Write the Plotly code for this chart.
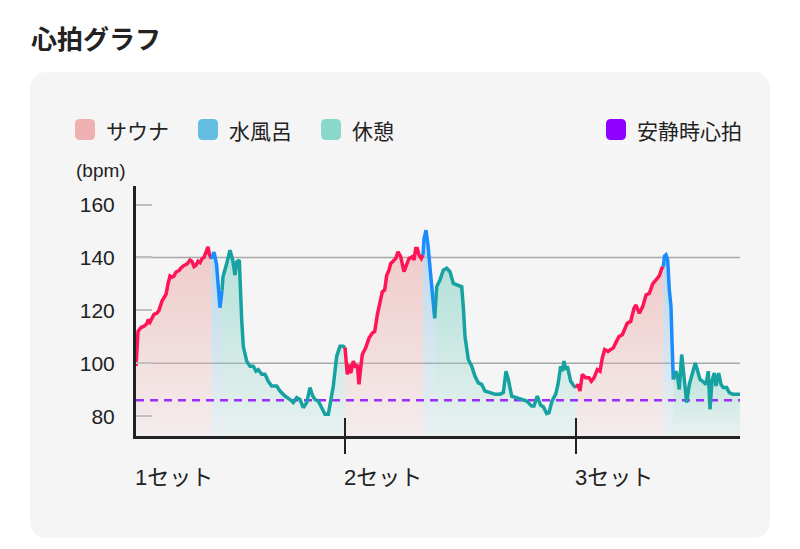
import plotly.graph_objects as go

# ---------------- data (minutes, bpm) ----------------
SET_LABELS = ["1セット", "2セット", "3セット"]
SET_STARTS = [0.0, 20.9, 44.0]
T_END = 60.4
RESTING_HR = 86
Y_TICKS = [80, 100, 120, 140, 160]
GRID_LINES = [100, 140]
Y_MIN, Y_MAX = 72.5, 167.0

sauna1_t = [0.0, 0.1, 0.2, 0.5, 0.8, 1.1, 1.2, 1.4, 1.6, 1.8, 2.1, 2.3, 2.6, 2.8, 3.0, 3.2, 3.4, 3.6, 3.8,
            4.0, 4.3, 4.5, 4.8, 5.1, 5.4, 5.6, 5.8, 6.0, 6.2, 6.4, 6.6, 6.8, 7.0, 7.2, 7.35, 7.55]
sauna1_bpm = [99, 106, 112, 113.5, 114, 115, 116.5, 115.5, 117, 118.5, 119, 120, 123.5, 125, 126, 130, 133, 132.5, 133,
              134.5, 135, 136, 137, 137.5, 139, 138.5, 136.5, 137, 138.5, 138, 139.5, 140, 142, 144, 141, 139.5]

water1_t = [7.55, 7.8, 8.05, 8.3, 8.4, 8.6]
water1_bpm = [139.5, 142, 137.5, 126, 121, 127.5]

rest1_t = [8.6, 8.7, 9.07, 9.4, 9.67, 9.9, 10.07, 10.33, 10.57, 10.73, 11.07, 11.4, 11.73, 12.0, 12.23, 12.57,
           12.9, 13.23, 13.57, 14.07, 14.4, 14.9, 15.4, 15.73, 16.07, 16.4, 16.73, 17.07, 17.4, 17.67, 17.9,
           18.23, 18.57, 18.9, 19.23, 19.4, 19.73, 20.07, 20.4, 20.73, 20.9]
rest1_bpm = [127.5, 132.7, 137.7, 142.7, 139, 133.3, 138.3, 139, 116.4, 106.4, 100.8, 98.9, 98.9, 97, 97.6, 95.8,
             95.8, 93.2, 91.4, 91.4, 89.5, 87.6, 86.3, 85.1, 87, 86.3, 83.2, 85.1, 90.8, 87.6, 86.3,
             85.7, 83.2, 80.7, 80.7, 85.1, 91.4, 102.7, 106.4, 106.4, 106]

sauna2_t = [20.9, 20.97, 21.13, 21.3, 21.47, 21.73, 21.97, 22.13, 22.3, 22.47, 22.63, 22.97, 23.3, 23.63, 23.87,
            24.13, 24.37, 24.63, 24.87, 25.07, 25.3, 25.47, 25.63, 25.97, 26.2, 26.47, 26.8, 27.07, 27.3, 27.63,
            27.8, 27.97, 28.13, 28.3, 28.53, 28.7]
sauna2_bpm = [106, 102, 95.8, 99.5, 96.3, 100.8, 98.3, 99.5, 92, 98.3, 103.3, 105.8, 109.5, 111.4, 112,
              118.3, 122, 127, 127.7, 133.3, 135.2, 137.7, 138.3, 139.6, 142.1, 140.3, 134.6, 137.7, 139.6, 140.3,
              139, 143.4, 143.4, 140.9, 139.6, 140.9]

water2_t = [28.7, 28.8, 29.0, 29.2, 29.47, 29.73, 29.87]
water2_bpm = [140.9, 147, 150.3, 144.6, 133.3, 120.8, 117]

rest2_t = [29.87, 30.07, 30.4, 30.73, 31.07, 31.4, 31.73, 32.07, 32.57, 32.73, 32.9, 33.23, 33.57, 33.9, 34.23,
           34.57, 34.9, 35.4, 35.9, 36.4, 36.73, 37.0, 37.23, 37.57, 38.07, 38.57, 39.07, 39.57, 39.8, 40.13,
           40.45, 40.75, 41.07, 41.3, 41.6, 41.97, 42.2, 42.47, 42.63, 42.8, 42.97, 43.13, 43.47, 43.8, 44.0]
rest2_bpm = [117, 128.9, 131.5, 135.2, 135.9, 134.6, 130.2, 129.6, 128.9, 121.4, 110.1, 101.4, 98.9, 95.1, 92.6,
             92, 89.5, 88.9, 88.3, 88.3, 88.9, 97, 93.9, 87.6, 87, 86.3, 85.7, 83.8, 83.8, 87.6,
             84.2, 83.5, 81, 81.3, 85.7, 88.3, 92, 98.9, 97, 100.8, 97.6, 98.9, 93.2, 91.4, 90.8]

sauna3_t = [44.0, 44.2, 44.4, 44.63, 44.97, 45.3, 45.53, 45.8, 46.13, 46.4, 46.63, 46.87, 47.2, 47.47, 47.73,
            47.97, 48.3, 48.63, 48.87, 49.13, 49.47, 49.8, 50.0, 50.33, 50.67, 51.0, 51.33, 51.67, 52.0, 52.33,
            52.6, 52.73]
sauna3_bpm = [90.8, 92, 89.5, 95.8, 94.5, 94.5, 93.2, 94.5, 97.6, 97, 102, 105.2, 104.5, 105.2, 105.8,
              107.7, 110.1, 110.8, 113.3, 115.2, 115.8, 120.8, 122, 118.9, 121.4, 125.8, 126.4, 130, 131.5, 133,
              136, 136.5]

water3_t = [52.73, 52.85, 53.0, 53.17, 53.33, 53.5, 53.6, 53.73]
water3_bpm = [136.5, 140.5, 141, 139, 127.7, 121.4, 108.3, 93.9]

rest3_t = [53.73, 54.0, 54.17, 54.33, 54.57, 54.83, 55.07, 55.33, 55.67, 55.93, 56.17, 56.4, 56.67, 57.0, 57.23,
           57.4, 57.6, 57.83, 58.0, 58.27, 58.5, 58.73, 59.07, 59.33, 59.67, 60.0, 60.4]
rest3_bpm = [93.9, 97, 94.5, 90.1, 103.3, 92, 85.1, 92, 97, 100.1, 97, 93.9, 93.2, 92, 97,
             82.6, 93.2, 96.3, 91.4, 96.3, 92, 90.8, 90.8, 88.9, 88.3, 88.3, 88.3]

LEGEND_LABELS = ["サウナ", "水風呂", "休憩", "安静時心拍"]

# ---------------- styles ----------------
LINE_COLORS = {"sauna": "#ff1456", "water": "#1a8cff", "rest": "#17a2a2"}
FILL_RGB = {"sauna": (236, 176, 176), "water": (150, 200, 228), "rest": (140, 212, 200)}
LEGEND_COLORS = ["#eeb0b0", "#62bde0", "#8ad8cc", "#8f00ff"]
REST_COLOR = "#9d2cff"
FONT = "Liberation Sans, Noto Sans CJK JP, sans-serif"
JP_FONT = "Noto Sans CJK JP, sans-serif"
TXT = "#222222"

W, H = 800, 549
L, R, T, B = 136, 60, 186, 113
PW, PH = W - L - R, H - T - B


def fx(px):
    return (px - L) / PW


def fy(py):
    return (H - B - py) / PH


def rrect(x0, y0, x1, y1, r):
    return (f"M {fx(x0 + r)},{fy(y0)} L {fx(x1 - r)},{fy(y0)} Q {fx(x1)},{fy(y0)} {fx(x1)},{fy(y0 + r)} "
            f"L {fx(x1)},{fy(y1 - r)} Q {fx(x1)},{fy(y1)} {fx(x1 - r)},{fy(y1)} "
            f"L {fx(x0 + r)},{fy(y1)} Q {fx(x0)},{fy(y1)} {fx(x0)},{fy(y1 - r)} "
            f"L {fx(x0)},{fy(y0 + r)} Q {fx(x0)},{fy(y0)} {fx(x0 + r)},{fy(y0)} Z")


phases = [
    ("sauna", sauna1_t, sauna1_bpm), ("water", water1_t, water1_bpm), ("rest", rest1_t, rest1_bpm),
    ("sauna", sauna2_t, sauna2_bpm), ("water", water2_t, water2_bpm), ("rest", rest2_t, rest2_bpm),
    ("sauna", sauna3_t, sauna3_bpm), ("water", water3_t, water3_bpm), ("rest", rest3_t, rest3_bpm),
]

fig = go.Figure()

# fills
for kind, t, v in phases:
    r, g, b = FILL_RGB[kind]
    fig.add_trace(go.Scatter(
        x=t, y=v, mode="lines", line=dict(width=0), fill="tozeroy",
        fillgradient=dict(type="vertical",
                          colorscale=[[0, f"rgba({r},{g},{b},0.12)"], [1, f"rgba({r},{g},{b},0.62)"]],
                          start=Y_MIN, stop=max(v)),
        hoverinfo="skip", showlegend=False))

# resting heart rate
fig.add_trace(go.Scatter(x=[0, T_END], y=[RESTING_HR, RESTING_HR], mode="lines",
                         line=dict(color=REST_COLOR, width=2.5, dash="8px,6px"),
                         hoverinfo="skip", showlegend=False))

# lines
for kind, t, v in phases:
    fig.add_trace(go.Scatter(x=t, y=v, mode="lines",
                             line=dict(color=LINE_COLORS[kind], width=3.5, shape="linear"),
                             showlegend=False))

shapes = []
# panel
shapes.append(dict(type="path", path=rrect(30, 72, 770, 538, 18), xref="paper", yref="paper",
                   fillcolor="#f5f5f5", line=dict(width=0), layer="below"))
# grid lines
for gv in GRID_LINES:
    shapes.append(dict(type="line", xref="paper", x0=0, x1=1, yref="y", y0=gv, y1=gv,
                       line=dict(color="#a8a8a8", width=1.5), layer="below"))
# set ticks (crossing the x axis)
for s in SET_STARTS[1:]:
    shapes.append(dict(type="line", xref="x", x0=s, x1=s, yref="paper", y0=fy(454), y1=fy(418),
                       line=dict(color=TXT, width=2)))

# legend
legend_boxes = [75, 198, 321, 606]
annotations = []
for lx, lab, col in zip(legend_boxes, LEGEND_LABELS, LEGEND_COLORS):
    shapes.append(dict(type="path", path=rrect(lx, 119, lx + 20, 140, 5), xref="paper", yref="paper",
                       fillcolor=col, line=dict(width=0)))
    annotations.append(dict(text=lab, xref="paper", yref="paper", x=fx(lx + 29), y=fy(130),
                            xanchor="left", yanchor="middle", showarrow=False,
                            font=dict(family=JP_FONT, size=21, color=TXT)))

# title
annotations.append(dict(text="<b>心拍グラフ</b>", xref="paper", yref="paper", x=fx(29), y=fy(38),
                        xanchor="left", yanchor="middle", showarrow=False,
                        font=dict(family=JP_FONT, size=26, color=TXT)))
# y unit
annotations.append(dict(text="(bpm)", xref="paper", yref="paper", x=fx(74), y=fy(170),
                        xanchor="left", yanchor="middle", showarrow=False,
                        font=dict(family=FONT, size=19, color=TXT)))
# set labels
for s, lab in zip(SET_STARTS, SET_LABELS):
    annotations.append(dict(text=lab, xref="x", yref="paper", x=s, y=fy(477), xshift=-3,
                            xanchor="left", yanchor="middle", showarrow=False,
                            font=dict(family=FONT, size=22, color=TXT)))

fig.update_layout(
    width=W, height=H, margin=dict(l=L, r=R, t=T, b=B),
    paper_bgcolor="white", plot_bgcolor="rgba(0,0,0,0)",
    shapes=shapes, annotations=annotations, showlegend=False,
    xaxis=dict(range=[0, T_END], showgrid=False, zeroline=False, showticklabels=False, ticks="",
               showline=True, linecolor=TXT, linewidth=3, fixedrange=True),
    yaxis=dict(range=[Y_MIN, Y_MAX], tickvals=Y_TICKS, showgrid=False, zeroline=False,
               ticks="inside", ticklen=16, tickcolor="#c0c0c0", tickwidth=1.5,
               showline=True, linecolor=TXT, linewidth=3, ticklabelstandoff=14,
               tickfont=dict(family=FONT, size=21, color=TXT), fixedrange=True),
)

fig.write_html("out.html")
